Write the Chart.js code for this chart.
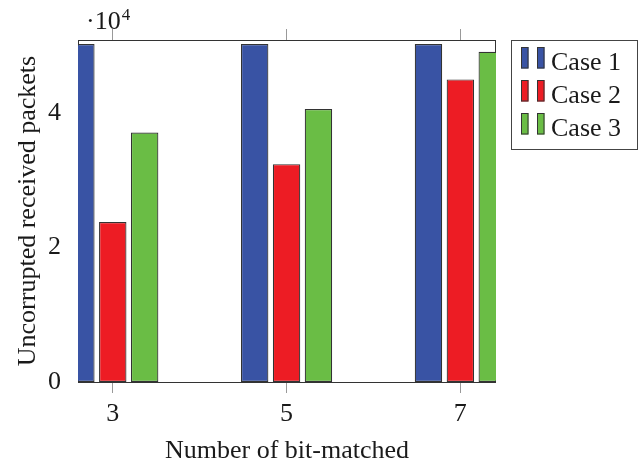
<!DOCTYPE html>
<html><head><meta charset="utf-8">
<script src="https://cdn.jsdelivr.net/npm/chart.js@4/dist/chart.umd.min.js"></script>
<style>html,body{margin:0;padding:0;background:#fff}#wrap{width:640px;height:461px;position:relative}canvas{display:block}</style>
</head><body><div id="wrap"><canvas id="c" width="640" height="461"></canvas></div>
<script>
// ---- data ----
const categories = [3, 5, 7];
const seriesNames = ['Case 1', 'Case 2', 'Case 3'];
const case1 = [50250, 50250, 50250];
const case2 = [23800, 32400, 45000];
const case3 = [37100, 40600, 49100];
const yTickValues = [0, 20000, 40000];
const yScaleFactor = 10000;
const exponentBase = '·10';
const exponentPower = '4';
const xTitle = 'Number of bit-matched';
const yTitle = 'Uncorrupted received packets';

// ---- styling ----
const colors = ['#3953A4', '#ED1C24', '#6ABD45'];
const FONT = "'Liberation Serif', 'Times New Roman', serif";
const TXT = '#1a1a1a';
const xMin = 2.6, xMax = 7.41, yMax = 50860;

const seriesValues = [case1, case2, case3];

const framePlugin = {
  id: 'frame',
  beforeDatasetsDraw(chart) {
    const {ctx, chartArea: a} = chart;
    ctx.save();
    ctx.strokeStyle = '#333';
    ctx.lineWidth = 1;
    ctx.strokeRect(Math.round(a.left) + 0.5, Math.round(a.top) + 0.5,
      Math.round(a.right - a.left) - 1, Math.round(a.bottom - a.top));
    ctx.restore();
  },
  afterDraw(chart) {
    const {ctx, chartArea: a} = chart;
    ctx.save();
    // exponent label
    ctx.fillStyle = TXT;
    ctx.textBaseline = 'alphabetic';
    ctx.textAlign = 'left';
    ctx.font = '26px ' + FONT;
    ctx.fillText(exponentBase, a.left + 8, 29);
    const w = ctx.measureText(exponentBase).width;
    ctx.font = '17px ' + FONT;
    ctx.fillText(exponentPower, a.left + 8 + w + 1, 20);
    // legend
    const lx = 511.5, ly = 40.5, lw = 126, lh = 109;
    ctx.fillStyle = '#fff';
    ctx.fillRect(lx, ly, lw, lh);
    ctx.strokeStyle = '#444';
    ctx.lineWidth = 1;
    ctx.strokeRect(lx, ly, lw, lh);
    chart.data.datasets.forEach((ds, i) => {
      const ry = 47 + i * 33;
      [521, 537].forEach(rx => {
        ctx.fillStyle = ds.backgroundColor;
        ctx.fillRect(rx, ry, 7.5, 21.5);
        ctx.strokeStyle = '#333';
        ctx.strokeRect(rx + 0.5, ry + 0.5, 6.5, 20.5);
      });
      ctx.fillStyle = TXT;
      ctx.font = '26px ' + FONT;
      ctx.fillText(ds.label, 551, 70 + i * 33);
    });
    ctx.restore();
  }
};

new Chart(document.getElementById('c'), {
  type: 'bar',
  data: {
    datasets: seriesNames.map((name, i) => ({
      label: name,
      data: categories.map((c, j) => ({x: c, y: seriesValues[i][j]})),
      backgroundColor: colors[i],
      borderColor: '#333',
      borderWidth: 1.2,
      borderSkipped: false,
      categoryPercentage: 0.5505,
      barPercentage: 0.86,
      xAxisID: 'x',
      yAxisID: 'y'
    }))
  },
  options: {
    responsive: false,
    devicePixelRatio: 1,
    animation: false,
    layout: {padding: {left: 0, right: 144, top: 0, bottom: 0}},
    plugins: {legend: {display: false}, tooltip: {enabled: false}},
    scales: {
      x: {
        type: 'linear', position: 'bottom', min: xMin, max: xMax, offset: false,
        grid: {display: true, drawOnChartArea: false, drawTicks: true, tickLength: 11, color: '#999', offset: false},
        border: {display: false},
        ticks: {padding: 6, color: TXT, font: {family: FONT, size: 26}, maxRotation: 0, autoSkip: false,
          callback: v => String(v)},
        afterBuildTicks: s => { s.ticks = categories.map(v => ({value: v})); },
        afterFit: s => { s.height = 79; },
        title: {display: true, text: xTitle, color: TXT, font: {family: FONT, size: 26, lineHeight: 1}, padding: {top: 0, bottom: -3}}
      },
      x2: {
        type: 'linear', position: 'top', min: xMin, max: xMax, offset: false,
        grid: {display: true, drawOnChartArea: false, drawTicks: true, tickLength: 11, color: '#999', offset: false},
        border: {display: false},
        ticks: {display: false},
        afterBuildTicks: s => { s.ticks = categories.map(v => ({value: v})); },
        afterFit: s => { s.height = 40; }
      },
      y: {
        type: 'linear', position: 'left', min: 0, max: yMax,
        grid: {display: false},
        border: {display: false},
        ticks: {padding: 9, color: TXT, font: {family: FONT, size: 26}, callback: v => String(v / yScaleFactor)},
        afterBuildTicks: s => { s.ticks = yTickValues.map(v => ({value: v})); },
        afterFit: s => { s.width = 78; },
        title: {display: true, text: yTitle, color: TXT, font: {family: FONT, size: 26, lineHeight: 1}, padding: {top: 15, bottom: 0}}
      }
    }
  },
  plugins: [framePlugin]
});
</script>
</body></html>
